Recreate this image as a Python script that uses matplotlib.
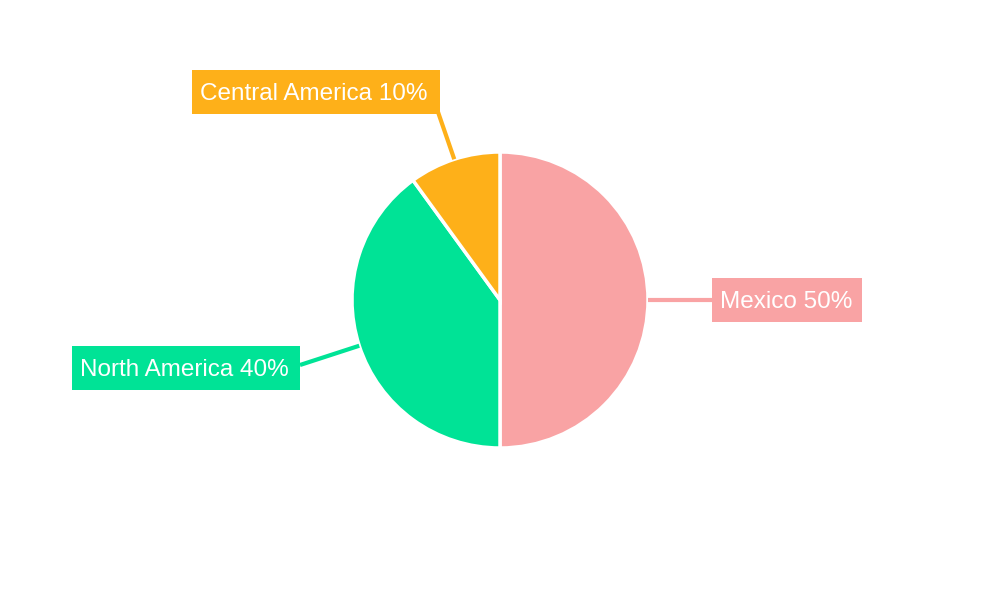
import math

import matplotlib.pyplot as plt
from matplotlib.patches import Rectangle

labels = ["Mexico", "North America", "Central America"]
values = [50, 40, 10]
colors = ["#F9A3A4", "#00E396", "#FEB019"]

# label boxes (left, top, width, height) and connector end points, pixel coords (y down)
boxes = [(712, 278, 150, 44), (72, 346, 228, 44), (192, 70, 248, 44)]
line_ends = [(712, 300), (300, 365), (438, 112)]

CX, CY, R = 500, 300, 148
H = 600

plt.rcParams["font.family"] = ["Liberation Sans", "DejaVu Sans"]

fig = plt.figure(figsize=(10, 6), dpi=100)
ax = fig.add_axes([0, 0, 1, 1])

wedges, _ = ax.pie(
    values, colors=colors, startangle=90, counterclock=False,
    center=(CX, H - CY), radius=R, frame=True,
    wedgeprops=dict(edgecolor="white", linewidth=2.5),
)
ax.set_xlim(0, 1000)
ax.set_ylim(0, H)
ax.set_aspect("equal")
ax.axis("off")

for w, lab, val, col, (bl, bt, bw, bh), (ex, ey) in zip(
        wedges, labels, values, colors, boxes, line_ends):
    mid = math.radians((w.theta1 + w.theta2) / 2)
    sx = CX + R * math.cos(mid)
    sy = (H - CY) + R * math.sin(mid)
    ax.plot([sx, ex], [sy, H - ey], color=col, linewidth=3,
            solid_capstyle="butt", zorder=1)
    ax.add_patch(Rectangle((bl, H - bt - bh), bw, bh, facecolor=col,
                           edgecolor="none", zorder=2))
    ax.text(bl + 8, H - (bt + bh / 2) - 8.5, f"{lab} {val}%",
            color="white", fontsize=17.5, ha="left", va="baseline",
            zorder=3)

fig.savefig("out.png", dpi=100)
